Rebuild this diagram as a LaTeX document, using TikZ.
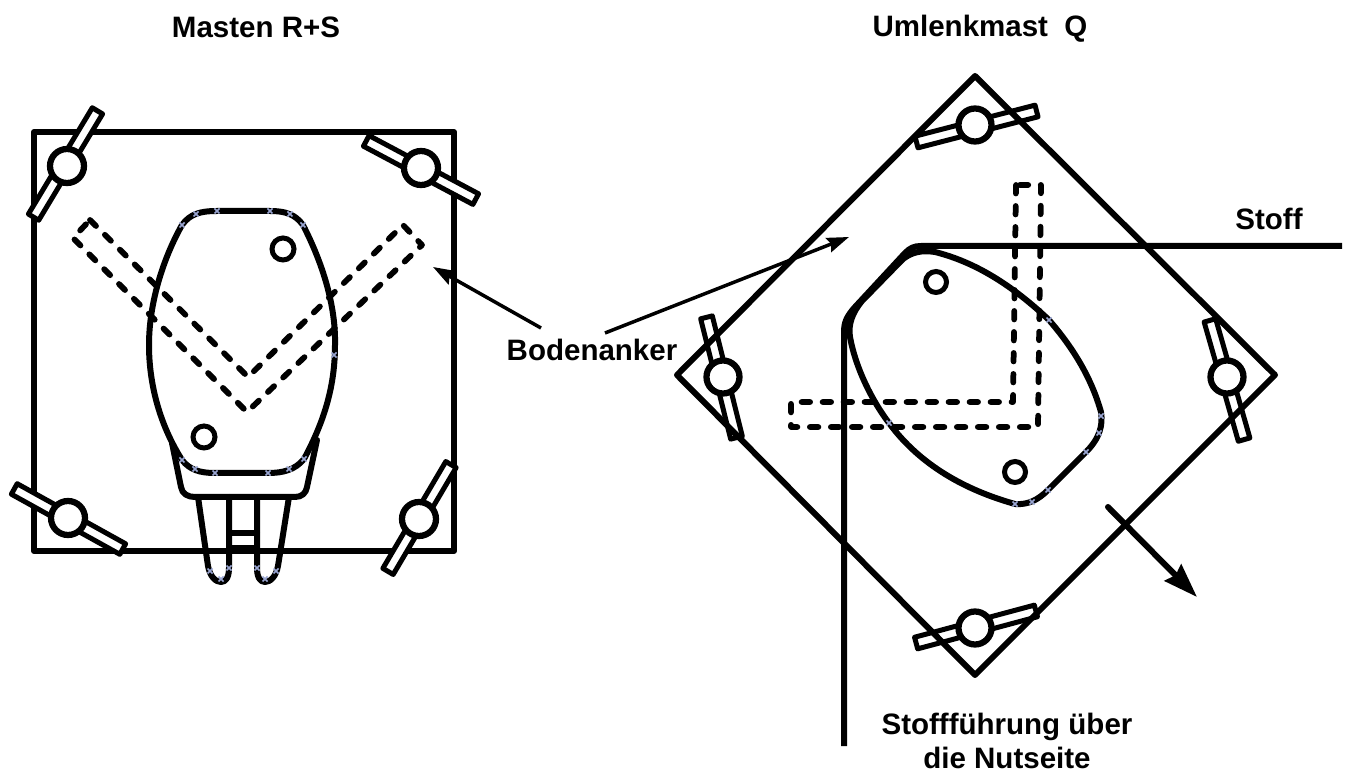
\documentclass[tikz,border=0pt]{standalone}
\usepackage{fontspec}
\setmainfont{Liberation Sans}
\usetikzlibrary{arrows.meta}
\definecolor{markblue}{HTML}{9AA6D2}
\tikzset{
  heavy/.style={line width=0.12cm,line join=round,line cap=round},
  hairdash/.style={line width=0.115cm,line cap=round,line join=round,dash pattern=on 0.17cm off 0.25cm},
  bar/.style={line width=0.1cm,line join=round},
  hub/.style={line width=0.125cm,fill=white},
  hole/.style={line width=0.1cm,fill=white},
  lbl/.style={font=\fontsize{16.8pt}{19.4pt}\selectfont\bfseries,align=center,inner sep=0pt},
  pointer/.style={line width=0.07cm,-{Stealth[length=0.44cm,width=0.3cm,inset=0.06cm]}},
  bigpointer/.style={line width=0.12cm,line cap=round,-{Stealth[length=0.68cm,width=0.46cm,inset=0.07cm]}},
  nodemark/.style={line width=0.03cm,color=markblue}
}
\newcommand{\anchorbar}[4]{% cx cy angle fill
  \begin{scope}[shift={(#1,#2)},rotate=#3]
    \draw[bar,fill=#4] (-62,-6) rectangle (62,6);
  \end{scope}}
\newcommand{\nodex}[2]{\draw[nodemark] (#1-2.5,#2-2.5) -- (#1+2.5,#2+2.5) (#1-2.5,#2+2.5) -- (#1+2.5,#2-2.5);}
\begin{document}
\begin{tikzpicture}[x=0.02cm,y=-0.02cm]
\useasboundingbox (0,0) rectangle (1350,773);
\fill[white] (0,0) rectangle (1350,773);
% left: base plate
\draw[heavy] (34,132) rectangle (454,551);
% left: hidden ground anchor
\draw[hairdash] (90,220) -- (248,377) -- (403,225) -- (422,245) -- (247,412) -- (73,238) -- cycle;
% left: mast legs
\draw[heavy] (198,497) -- (208,566) .. controls (210,577) and (216,582) .. (221,582) .. controls (226,582) and (229,577) .. (229,568) -- (229,497);
\draw[heavy] (289,497) -- (278,566) .. controls (276,577) and (270,582) .. (265,582) .. controls (260,582) and (257,577) .. (257,568) -- (257,497);
\draw[heavy] (229,533) -- (257,533);
\draw[heavy] (229,548) -- (257,548);
% left: collar
\draw[heavy] (172,443) -- (181,487) .. controls (182,494) and (188,497) .. (195,497) -- (295,497) .. controls (302,497) and (306,493) .. (307,487) -- (317,440);
% left: mast body
\draw[heavy] (217,211) -- (270,211) .. controls (285,211) and (295,214) .. (303,225)
  .. controls (322,262) and (336,305) .. (335,345)
  .. controls (335,385) and (325,420) .. (304,459)
  .. controls (295,470) and (283,473) .. (268,473) -- (215,473)
  .. controls (200,473) and (190,470) .. (182,460)
  .. controls (160,425) and (149,385) .. (149,345)
  .. controls (149,300) and (165,255) .. (182,225)
  .. controls (190,214) and (200,211) .. (217,211) -- cycle;
\draw[hole] (283,249) circle (11);
\draw[hole] (204,437) circle (11);
% left: anchors
\anchorbar{65.5}{164}{59}{white}
\anchorbar{421}{170}{-28}{white}
\anchorbar{68.5}{519}{-29}{white}
\anchorbar{419.5}{518}{59.5}{white}
\draw[hub] (67,166) circle (17);
\draw[hub] (421,168) circle (17);
\draw[hub] (68,518) circle (17);
\draw[hub] (419,519) circle (17);
% right: anchors bars, then plate
\anchorbar{976.5}{126.5}{14.5}{white}
\anchorbar{976}{627}{15}{white}
\anchorbar{721.5}{377.5}{-76}{white}
\anchorbar{1227}{380}{-74}{white}
\draw[heavy] (975,76) -- (1275,375) -- (975,675) -- (677,375) -- cycle;
\draw[hub] (975,125) circle (16.5);
\draw[hub] (975,628) circle (16.5);
\draw[hub] (723,377) circle (16.5);
\draw[hub] (1227,377) circle (16.5);
% right: hidden ground anchor
\draw[hairdash] (1016,185) -- (1013,402) -- (791,402) -- (791,427) -- (1038,427) -- (1041,185) -- cycle;
% right: mast body
\draw[heavy] (935,252) .. controls (975,262) and (1012,285) .. (1049,320)
  .. controls (1075,350) and (1092,380) .. (1101,412)
  .. controls (1103,425) and (1100,438) .. (1086,452) -- (1048,490)
  .. controls (1038,500) and (1028,505) .. (1015,504)
  .. controls (965,490) and (920,465) .. (889,423)
  .. controls (870,398) and (855,365) .. (850,337)
  .. controls (848,325) and (852,313) .. (862,301) -- (903,259)
  .. controls (912,252) and (922,250) .. (935,252) -- cycle;
\draw[hole] (936,282) circle (10.5);
\draw[hole] (1015,472) circle (10.5);
% right: fabric
\draw[heavy,line cap=butt] (1342,246) -- (921,246) .. controls (914,246) and (910,248) .. (905,253) -- (855,307) .. controls (847,316) and (844,322) .. (844,332) -- (844,746);
% labels
\node[lbl] (tl) at (256,27) {Masten R+S};
\node[lbl] (tr) at (980,29) {Umlenkmast\ \ Q};
\node[lbl] (st) at (1269,219) {Stoff};
\node[lbl] (bod) at (592,350) {Bodenanker};
\node[lbl] (fu) at (1007,741) {Stoffführung über\\die Nutseite};
% pointers
\coordinate (p1s) at (541,328);
\coordinate (p1e) at (433,267);
\coordinate (p2s) at (605,333);
\coordinate (p2e) at (849,237);
\coordinate (p3s) at (1108,507);
\coordinate (p3e) at (1197,597);
\draw[pointer] (p1s) -- (p1e);
\draw[pointer] (p2s) -- (p2e);
\draw[bigpointer] (p3s) -- (p3e);
% bezier marks left in the source drawing
\nodex{182}{225}\nodex{196}{214}\nodex{217}{211}\nodex{270}{211}\nodex{290}{214}\nodex{303}{225}
\nodex{334}{355}
\nodex{182}{460}\nodex{195}{469}\nodex{215}{473}\nodex{268}{473}\nodex{289}{469}\nodex{304}{459}
\nodex{210}{571}\nodex{221}{579}\nodex{229}{568}\nodex{257}{568}\nodex{265}{579}\nodex{276}{571}
\nodex{1049}{320}\nodex{1101}{416}\nodex{1099}{433}\nodex{1086}{452}\nodex{1048}{490}\nodex{1032}{502}\nodex{1015}{504}\nodex{889}{423}
\end{tikzpicture}
\end{document}
